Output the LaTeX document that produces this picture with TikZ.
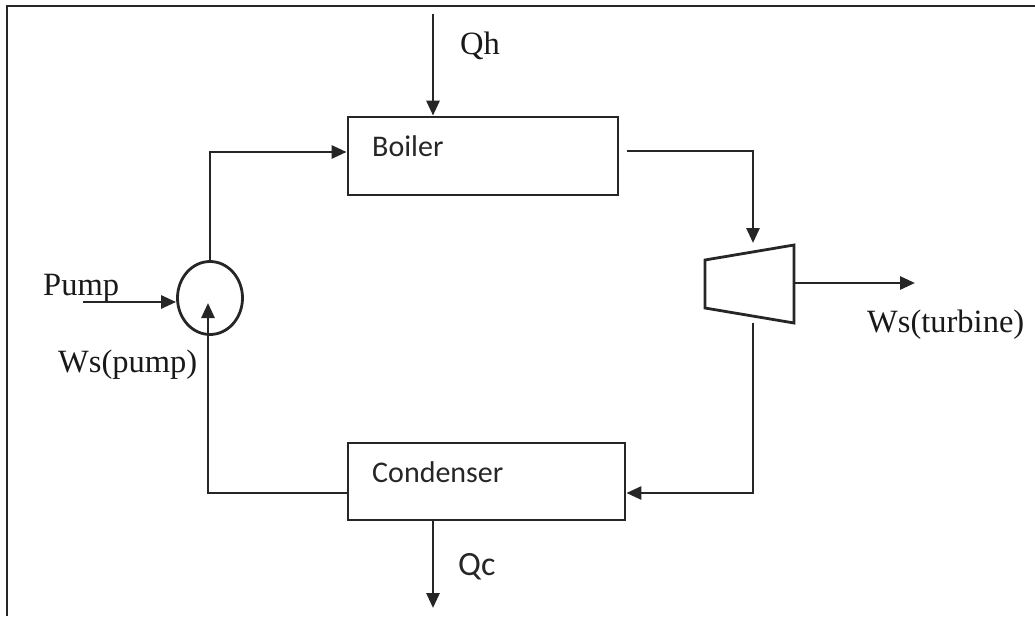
\documentclass[tikz,border=0pt]{standalone}
\usepackage{fontspec}
\setmainfont{Liberation Serif}
\newfontfamily\boxfont{Carlito}
\usetikzlibrary{arrows.meta,shapes.geometric,calc}
\begin{document}
\begin{tikzpicture}[x=1pt,y=-1pt,
  ln/.style={draw=black!85,line width=2.8pt},
  flow/.style={ln,-{Triangle[length=15pt,width=13pt]}},
  unitbox/.style={ln,rectangle,inner sep=0pt},
  serif/.style={inner sep=0pt,anchor=base west,font=\fontsize{32.5}{36}\selectfont,text=black!90},
  sans/.style={inner sep=0pt,anchor=base west,font=\boxfont\fontsize{30}{34}\selectfont,text=black!85}]
\useasboundingbox (0,0) rectangle (1035,616);
% frame (top and left edges visible)
\draw[draw=black!85,line width=2.8pt] (7,616) -- (7,6) -- (1035,6);
% units
\node[unitbox,minimum width=270pt,minimum height=78pt] (boiler) at (483,156) {};
\node[unitbox,minimum width=277pt,minimum height=77pt] (condenser) at (486.5,481.5) {};
\node[ln,ellipse,inner sep=0pt,minimum width=65pt,minimum height=73pt] (pump) at (210,298) {};
\coordinate (t1) at (705,260);
\coordinate (t2) at (794,245);
\coordinate (t3) at (794,323);
\coordinate (t4) at (705,308);
\draw[ln,line join=miter] (t1) -- (t2) -- (t3) -- (t4) -- cycle;
% texts
\node[sans] (tboiler) at (372,156) {Boiler};
\node[sans] (tcond) at (372,482) {Condenser};
\node[sans,font=\boxfont\fontsize{34}{38}\selectfont] (tqc) at (458,575) {Qc};
\node[serif] (tqh) at (460,54) {Qh};
\node[serif] (tpump) at (43,295) {Pump};
\node[serif] (twsp) at (58,372) {Ws(pump)};
\node[serif] (twst) at (867,332) {Ws(turbine)};
% free ends
\coordinate (qhtop) at (433,14);
\coordinate (qcend) at (433,608);
\coordinate (pin) at (83,302);
\coordinate (tin) at (753,243);
\coordinate (tout) at (794,283);
\coordinate (wsend) at (915,283);
\coordinate (tbot) at (753,323);
\coordinate (ptip) at (208,303);
% connectors
\draw[flow] (qhtop) -- (qhtop |- boiler.north);
\draw[flow] (pump.north) |- ([yshift=4pt]boiler.west);
\draw[flow] ([shift={(8pt,5pt)}]boiler.east) -| (tin);
\draw[flow] (tout) -- (wsend);
\draw[flow] (tbot) |- ([yshift=-11.5pt]condenser.east);
\draw[flow] ([yshift=-11.5pt]condenser.west) -| (ptip);
\draw[flow] (pin) -- (pin -| pump.west);
\draw[flow] (qcend |- condenser.south) -- (qcend);
\end{tikzpicture}
\end{document}
